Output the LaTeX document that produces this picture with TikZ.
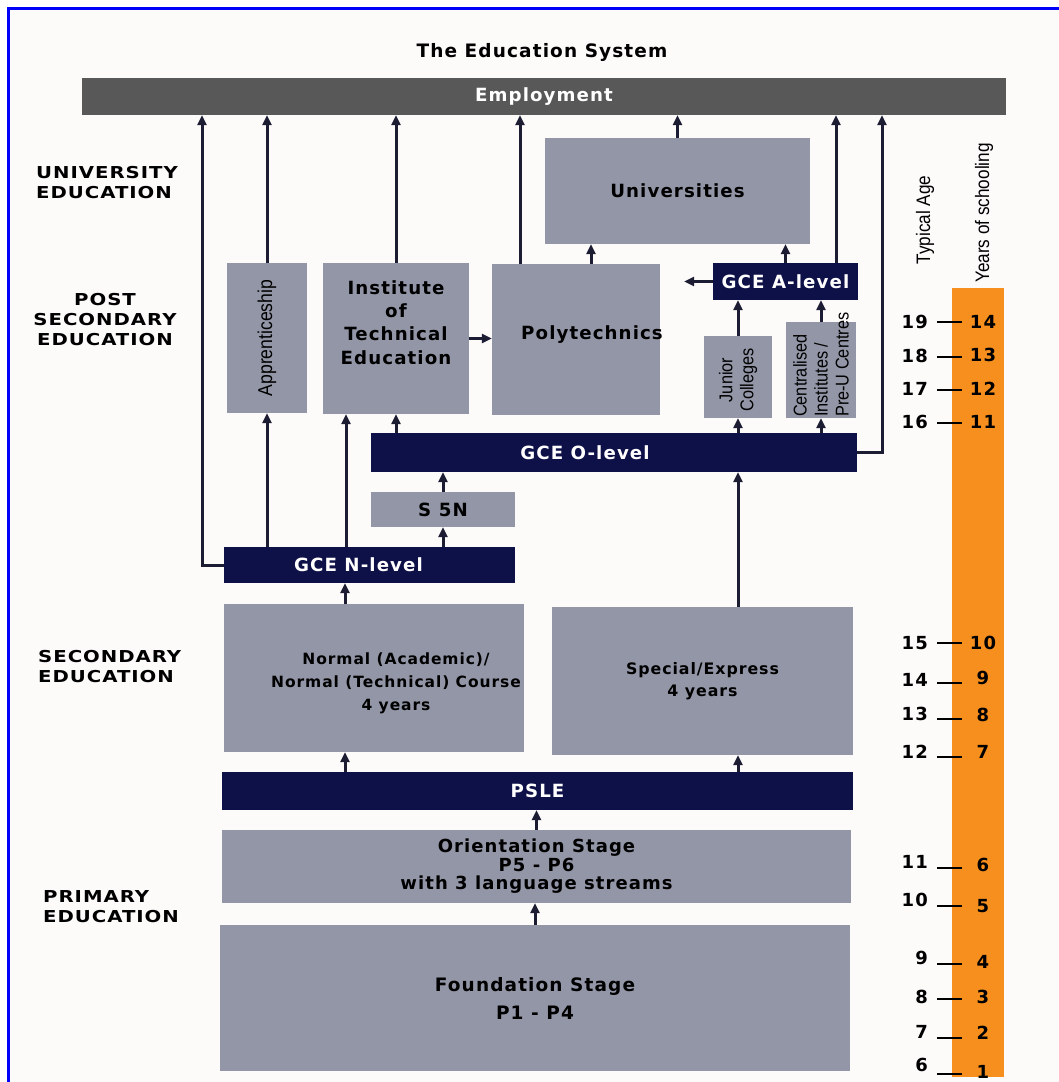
\documentclass[tikz,border=0pt]{standalone}
\usepackage{fontspec}
\setmainfont{DejaVu Sans}
\newfontfamily\boxfont[LetterSpace=6]{DejaVu Sans}
\newfontfamily\capsfont[FakeStretch=1.2,LetterSpace=6]{DejaVu Sans}
\newfontfamily\narrowfont[FakeStretch=0.88]{Liberation Sans}
\usetikzlibrary{arrows.meta}
\definecolor{boxgray}{RGB}{147,150,167}
\definecolor{navy}{RGB}{14,16,72}
\definecolor{empgray}{RGB}{88,88,88}
\definecolor{ruler}{RGB}{247,143,30}
\definecolor{paper}{RGB}{253,250,250}
\definecolor{frameblue}{RGB}{0,0,250}
\definecolor{linecol}{RGB}{28,28,50}
\tikzset{
	box/.style={inner sep=0pt, align=center, font=\boxfont\bfseries\fontsize{18.2}{21}\selectfont},
	graybox/.style={box, fill=boxgray, text=black},
	navybox/.style={box, fill=navy, text=white},
	vtext/.style={rotate=90, inner sep=0pt, align=center, font=\narrowfont\fontsize{18.5}{21}\selectfont},
	stagelabel/.style={inner sep=0pt, font=\capsfont\bfseries\fontsize{16.4}{20}\selectfont},
	agenum/.style={inner sep=0pt, font=\boxfont\bfseries\fontsize{18}{18}\selectfont},
	arr/.style={draw=linecol, line width=3pt, -{Triangle[length=10pt,width=9pt]}}
}

\begin{document}
\begin{tikzpicture}[x=1pt,y=-1pt]
\useasboundingbox (0,0) rectangle (1059,1082);
\fill[white] (0,0) rectangle (1059,1082);
\fill[paper] (10,10) rectangle (1059,1082);
\fill[frameblue] (7,7) rectangle (10,1082);
\fill[frameblue] (7,7) rectangle (1059,10);

\node[box, font=\boxfont\bfseries\fontsize{18.5}{21}\selectfont] (title) at (542,52) {The Education System};

% stage labels on the left
\node[stagelabel, align=left, anchor=west] (univlab) at (36,183) {UNIVERSITY\\EDUCATION};
\node[stagelabel, align=center] (postlab) at (105,319.5) {POST\\SECONDARY\\EDUCATION};
\node[stagelabel, align=left, anchor=west] (seclab) at (38,667) {SECONDARY\\EDUCATION};
\node[stagelabel, align=left, anchor=west] (primlab) at (43,906.5) {PRIMARY\\EDUCATION};

% boxes
\node[box, fill=empgray, text=white, minimum width=924pt, minimum height=37pt] (emp) at (544,96.5) {Employment};
\node[graybox, minimum width=265pt, minimum height=106pt] (univ) at (677.5,191) {Universities};
\node[graybox, minimum width=80pt, minimum height=150pt] (appr) at (267,338) {};
\node[vtext, font=\narrowfont\fontsize{20}{21}\selectfont] (apprtext) at (appr) {Apprenticeship};
\node[graybox, minimum width=146pt, minimum height=151pt,
	label={[box, yshift=16pt, font=\boxfont\bfseries\fontsize{18.2}{23.3}\selectfont]center:Institute\\of\\Technical\\Education}] (ite) at (396,338.5) {};
\node[graybox, minimum width=168pt, minimum height=151pt,
	label={[box, xshift=16pt, yshift=5pt]center:Polytechnics}] (poly) at (576,339.5) {};
\node[navybox, minimum width=145pt, minimum height=37pt] (alev) at (785.5,281.5) {GCE A-level};
\node[graybox, minimum width=68pt, minimum height=82pt] (jc) at (738,377) {};
\node[vtext] (jctext) at (738,380) {Junior\\Colleges};
\node[graybox, minimum width=70pt, minimum height=96pt] (ci) at (821,370) {};
\node[vtext, align=left, anchor=west] (citext) at (821,417) {Centralised\\Institutes /\\Pre-U Centres};
\node[navybox, minimum width=486pt, minimum height=39pt,
	label={[box, text=white, xshift=-29pt]center:GCE O-level}] (olev) at (614,452.5) {};
\node[graybox, minimum width=144pt, minimum height=35pt] (s5n) at (443,509.5) {S 5N};
\node[navybox, minimum width=291pt, minimum height=36pt,
	label={[box, text=white, xshift=-11pt]center:GCE N-level}] (nlev) at (369.5,565) {};
\node[graybox, minimum width=300pt, minimum height=148pt] (norm) at (374,678) {};
\node[box, font=\boxfont\bfseries\fontsize{15.5}{23}\selectfont] (normtext) at (396,683) {Normal (Academic)/\\Normal (Technical) Course\\4 years};
\node[graybox, minimum width=301pt, minimum height=148pt,
	font=\boxfont\bfseries\fontsize{15.8}{22}\selectfont] (spec) at (702.5,681) {Special/Express\\4 years};
\node[navybox, minimum width=631pt, minimum height=38pt] (psle) at (537.5,791) {PSLE};
\node[graybox, minimum width=629pt, minimum height=73pt,
	font=\boxfont\bfseries\fontsize{18}{18.5}\selectfont] (orient) at (536.5,866.5) {Orientation Stage\\P5 - P6\\with 3 language streams};
\node[graybox, minimum width=630pt, minimum height=146pt,
	font=\boxfont\bfseries\fontsize{18.5}{28}\selectfont] (found) at (535,998) {Foundation Stage\\P1 - P4};

% age ruler
\fill[ruler] (952,288) rectangle (1004,1077);
\node[vtext, font=\narrowfont\fontsize{19.5}{21}\selectfont] (agehead) at (925,220) {Typical Age};
\node[vtext, font=\narrowfont\fontsize{19.5}{21}\selectfont] (yearhead) at (984,213) {Years of schooling};
\foreach \age/\yr/\y/\t/\u in {19/14/322/322/322, 18/13/356/357/355, 17/12/389/390/389,
	16/11/422/423/422, 15/10/643/643/643, 14/9/680/683/678, 13/8/714/719/715,
	12/7/752/757/752, 11/6/862/868/865, 10/5/900/906/906, 9/4/958/964/962,
	8/3/997/999/997, 7/2/1032/1038/1033, 6/1/1065/1074/1072}
{
	\node[agenum, anchor=east] (age\age) at (928,\y) {\age};
	\draw[line width=2.6pt] (937,\t) -- (962,\t);
	\node[agenum] (yr\yr) at (983,\u) {\yr};
}

% connectors
\coordinate (lft) at (202,0);
\coordinate (rgt) at (882,0);
\coordinate (polyx) at (520,0);
\coordinate (univx) at (591,0);
\coordinate (alevx) at (836,0);
\coordinate (itex) at (346,0);
\coordinate (normx) at (345,0);
\coordinate (specx) at (738,0);

\draw[arr] (nlev.west) -| (lft |- emp.south);
\draw[arr] (appr.north) -- (appr.north |- emp.south);
\draw[arr] (ite.north) -- (ite.north |- emp.south);
\draw[arr] (polyx |- poly.north) -- (polyx |- emp.south);
\draw[arr] (univ.north) -- (univ.north |- emp.south);
\draw[arr] (alevx |- alev.north) -- (alevx |- emp.south);
\draw[arr] (olev.east) -| (rgt |- emp.south);

\draw[arr] (univx |- poly.north) -- (univx |- univ.south);
\draw[arr] (alev.north) -- (alev.north |- univ.south);
\draw[arr, shorten >=24pt] (alev.west) -- (alev.west -| poly.east);
\draw[arr] (ite.east) -- (ite.east -| poly.west);
\draw[arr] (jc.north) -- (jc.north |- alev.south);
\draw[arr] (ci.north) -- (ci.north |- alev.south);

\draw[arr] (ite.south |- olev.north) -- (ite.south);
\draw[arr] (jc.south |- olev.north) -- (jc.south);
\draw[arr] (ci.south |- olev.north) -- (ci.south);
\draw[arr] (s5n.north) -- (s5n.north |- olev.south);
\draw[arr] (s5n.south |- nlev.north) -- (s5n.south);
\draw[arr] (appr.south |- nlev.north) -- (appr.south);
\draw[arr] (itex |- nlev.north) -- (itex |- ite.south);

\draw[arr] (normx |- norm.north) -- (normx |- nlev.south);
\draw[arr] (specx |- spec.north) -- (specx |- olev.south);
\draw[arr] (normx |- psle.north) -- (normx |- norm.south);
\draw[arr] (specx |- psle.north) -- (specx |- spec.south);
\draw[arr] (orient.north) -- (orient.north |- psle.south);
\draw[arr] (found.north) -- (found.north |- orient.south);
\end{tikzpicture}
\end{document}
